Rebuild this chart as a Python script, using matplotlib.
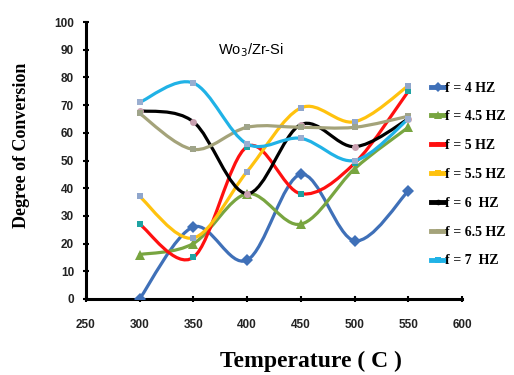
import matplotlib
matplotlib.use('Agg')
import matplotlib.pyplot as plt
import numpy as np
from matplotlib.path import Path
from matplotlib.patches import PathPatch
from matplotlib.lines import Line2D

temperature = [300, 350, 400, 450, 500, 550]

f4 = [0, 26, 14, 45, 21, 39]
f45 = [16, 20, 38, 27, 47, 62]
f5 = [27, 15, 55, 38, 49, 75]
f55 = [37, 22, 46, 69, 64, 77]
f6 = [68, 64, 38, 63, 55, 65]
f65 = [67, 54, 62, 62, 62, 66]
f7 = [71, 78, 56, 58, 50, 65]

labels = ["f = 4 HZ", "f = 4.5 HZ", "f = 5 HZ", "f = 5.5 HZ",
          "f = 6  HZ", "f = 6.5 HZ", "f = 7  HZ"]
series = [f4, f45, f5, f55, f6, f65, f7]
line_colors = ["#3f70b8", "#78a540", "#ff1010", "#ffc20e",
               "#000000", "#a4a37a", "#20b2e6"]
marker_styles = ["D", "^", "s", "s", "o", "s", "s"]
marker_colors = ["#3f70b8", "#78a540", "#1fa3a3", "#8fa6cc",
                 "#c9a0b0", "#9fa48a", "#9aaed0"]
marker_sizes = [6, 7, 4, 5, 5, 4, 5]


def smooth_path(x, y):
    # Excel-like smoothed line: cubic Bezier through the points
    pts = np.column_stack([x, y]).astype(float)
    n = len(pts)
    verts = [pts[0]]
    codes = [Path.MOVETO]
    for i in range(n - 1):
        p0 = pts[i - 1] if i > 0 else pts[i]
        p1 = pts[i]
        p2 = pts[i + 1]
        p3 = pts[i + 2] if i + 2 < n else pts[i + 1]
        c1 = p1 + (p2 - p0) / 6.0
        c2 = p2 - (p3 - p1) / 6.0
        verts += [c1, c2, p2]
        codes += [Path.CURVE4] * 3
    return Path(verts, codes)


fig = plt.figure(figsize=(5.14, 3.75), dpi=100)
ax = fig.add_axes([0.167, 0.203, 0.732, 0.738])

handles = []
for vals, lab, lc, ms, mc, msz in zip(series, labels, line_colors,
                                      marker_styles, marker_colors, marker_sizes):
    patch = PathPatch(smooth_path(temperature, vals), facecolor='none',
                      edgecolor=lc, lw=2.3, capstyle='round', joinstyle='round')
    ax.add_patch(patch)
    ax.plot(temperature, vals, linestyle='none', marker=ms, color=mc,
            markersize=msz, markeredgewidth=0, zorder=3)
    handles.append(Line2D([0], [0], color=lc, lw=3.5, marker=ms,
                          markersize=msz - 1, markerfacecolor=lc,
                          markeredgewidth=0))

ax.set_xlim(250, 600)
ax.set_ylim(0, 100)
ax.set_xticks(np.arange(250, 601, 50))
ax.set_yticks(np.arange(0, 101, 10))

for side in ['top', 'right']:
    ax.spines[side].set_visible(False)
for side in ['left', 'bottom']:
    ax.spines[side].set_linewidth(2.2)
ax.tick_params(direction='inout', length=5, width=1.5)
ax.tick_params(axis='y', pad=6)
ax.tick_params(axis='x', pad=12)
for t in ax.get_xticklabels() + ax.get_yticklabels():
    t.set_fontfamily('Liberation Sans')
    t.set_fontweight('bold')
    t.set_fontsize(8.5)
    t.set_color('#222222')

ax.set_xlabel("Temperature ( C )", fontfamily='Liberation Serif',
              fontweight='bold', fontsize=17, va='center')
ax.xaxis.set_label_coords(0.598, -0.227)
ax.set_ylabel("Degree of Conversion", fontfamily='Liberation Serif',
              fontweight='bold', fontsize=13, va='center')
ax.yaxis.set_label_coords(-0.17, 0.556)

ax.text(0.44, 0.9, "Wo$_3$/Zr-Si", transform=ax.transAxes, ha='center',
        va='center', fontsize=10.5, fontfamily='Liberation Sans')

fig.legend(handles, labels, loc='upper left', bbox_to_anchor=(0.815, 0.816),
           frameon=False, handlelength=0.9, handletextpad=0.1,
           labelspacing=1.14, prop={'family': 'Liberation Serif',
                                    'weight': 'bold', 'size': 10})

fig.savefig("out.png", dpi=100)
